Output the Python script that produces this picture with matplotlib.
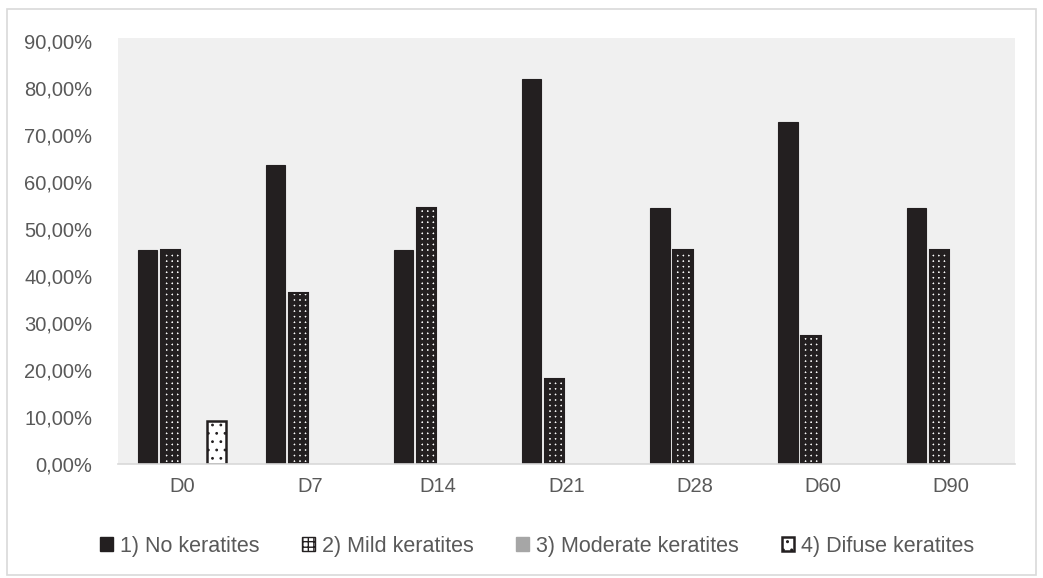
import numpy as np
import matplotlib
matplotlib.use("Agg")
from matplotlib import pyplot as plt
from matplotlib.patches import Rectangle
from matplotlib.ticker import FuncFormatter

days = ["D0", "D7", "D14", "D21", "D28", "D60", "D90"]
no_ker = [45.45, 63.64, 45.45, 81.82, 54.55, 72.73, 54.55]
mild_ker = [45.45, 36.36, 54.55, 18.18, 45.45, 27.27, 45.45]
moderate_ker = [0, 0, 0, 0, 0, 0, 0]
difuse_ker = [9.09, 0, 0, 0, 0, 0, 0]
labels = ["1) No keratites", "2) Mild keratites", "3) Moderate keratites", "4) Difuse keratites"]

plt.rcParams["font.family"] = ["Liberation Sans", "DejaVu Sans"]
plt.rcParams["hatch.linewidth"] = 1.0
txt = "#595959"
dark = "#231f20"

fig = plt.figure(figsize=(10.43, 5.78), dpi=100)
fig.patches.append(Rectangle((0.007, 0.005), 0.986, 0.98, transform=fig.transFigure,
                             fill=False, edgecolor="#d9d9d9", linewidth=1.2))
ax = fig.add_axes([0.113, 0.197, 0.86, 0.737])
ax.set_facecolor("#f0f0f0")

x = np.arange(len(days))
step, w = 0.18, 0.15
offs = (np.arange(4) - 1.5) * step


def draw(pos, vals, **kw):
    vals = np.asarray(vals, dtype=float)
    m = vals > 0
    return ax.bar(pos[m], vals[m], w, **kw)


draw(x + offs[0], no_ker, color=dark, edgecolor=dark, linewidth=0.8)
# mild: dense dark grid leaving small white dots
draw(x + offs[1], mild_ker, color="white", edgecolor=dark, hatch="+++", linewidth=1.5,
     hatch_linewidth=2.8)
draw(x + offs[2], moderate_ker, color="#a6a6a6", linewidth=0)
draw(x + offs[3], difuse_ker, color="white", edgecolor=dark, hatch="..", linewidth=1.8,
     hatch_linewidth=0.8)

ax.set_xlim(-0.5, len(days) - 0.5)
ax.set_ylim(0, 90.6)
ax.set_yticks(np.arange(0, 91, 10))
ax.yaxis.set_major_formatter(FuncFormatter(lambda v, p: f"{v:.2f}%".replace(".", ",")))
ax.set_xticks(x)
ax.set_xticklabels(days)
ax.tick_params(axis="both", length=0, labelsize=14.5, colors=txt, pad=9)
ax.tick_params(axis="y", pad=18.5)
for s in ["top", "right", "left"]:
    ax.spines[s].set_visible(False)
ax.spines["bottom"].set_color("#d9d9d9")
ax.spines["bottom"].set_linewidth(1.2)

# legend
handles = [
    Rectangle((0, 0), 1, 1, facecolor=dark, edgecolor=dark),
    Rectangle((0, 0), 1, 1, facecolor="white", edgecolor=dark, hatch="+++", hatch_linewidth=3.4),
    Rectangle((0, 0), 1, 1, facecolor="#a6a6a6", edgecolor="#a6a6a6"),
    Rectangle((0, 0), 1, 1, facecolor="white", edgecolor=dark, hatch="..", linewidth=1.8),
]
fig.legend(handles, labels, loc="center", bbox_to_anchor=(0.515, 0.055), ncol=4, frameon=False,
           fontsize=15.5, labelcolor=txt, handlelength=0.6, handleheight=0.6, handletextpad=0.3,
           columnspacing=2.0)

fig.savefig("out.png", dpi=100)
